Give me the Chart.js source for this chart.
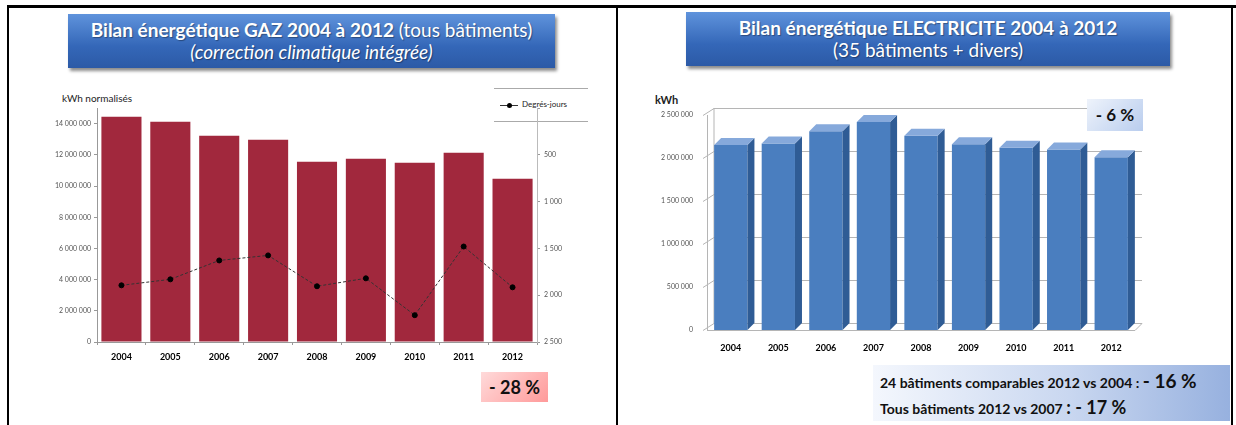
<!DOCTYPE html>
<html>
<head>
<meta charset="utf-8">
<script src="https://cdn.jsdelivr.net/npm/chart.js@4.4.1/dist/chart.umd.min.js"></script>
<style>
  body { margin: 0; width: 1236px; height: 425px; background: #fff; position: relative; overflow: hidden; font-family: Lato, "Open Sans", sans-serif; }
  .line { position: absolute; background: #000; }
  .titre { position: absolute; color: #fff; text-align: center; font-size: 19px; line-height: 22px;
    background: linear-gradient(#5f93dc, #3467b8 60%, #2c5aa6); box-shadow: 2px 3px 3px rgba(0,0,0,0.45);
    text-shadow: 1px 1px 1px rgba(0,0,0,0.35); padding-top: 5px; box-sizing: border-box; }
  .box { position: absolute; font-weight: bold; color: #111; }
  canvas { position: absolute; }
</style>
</head>
<body>
<div class="line" style="left:7px;top:5px;width:1229px;height:3px"></div>
<div class="line" style="left:7px;top:5px;width:2px;height:420px"></div>
<div class="line" style="left:616px;top:5px;width:2px;height:420px"></div>
<div class="line" style="left:1231px;top:5px;width:2px;height:420px"></div>

<div class="titre" style="left:68px;top:14px;width:487px;height:54px">
  <b>Bilan énergétique GAZ 2004 à 2012</b> (tous bâtiments)<br><i>(correction climatique intégrée)</i>
</div>
<div class="titre" style="left:686px;top:12px;width:484px;height:54px">
  <b>Bilan énergétique ELECTRICITE 2004 à 2012</b><br>(35 bâtiments + divers)
</div>

<div style="position:absolute;left:62px;top:92px;font-size:10px;color:#222">kWh normalisés</div>
<div style="position:absolute;left:655px;top:93px;font-size:11px;font-weight:bold;color:#222">kWh</div>

<div style="position:absolute;left:494px;top:88px;width:94px;height:32px;background:#fff;border-top:1px solid #aaa;border-bottom:1px solid #aaa;font-size:8px;color:#222">
  <div style="position:absolute;left:6px;top:16px;width:18px;height:1px;background:#333"></div>
  <div style="position:absolute;left:13px;top:14px;width:5px;height:5px;border-radius:50%;background:#000"></div>
  <div style="position:absolute;left:28px;top:10px">Degrés-jours</div>
</div>

<canvas id="chartGaz" width="560" height="270" style="left:40px;top:100px;width:560px;height:270px"></canvas>
<canvas id="chartElec" width="520" height="270" style="left:640px;top:95px;width:520px;height:270px"></canvas>

<div class="box" style="left:481px;top:372px;width:67px;height:30px;background:linear-gradient(135deg,#ffdada,#ff9a9a);font-size:18px;line-height:30px;text-align:center">- 28 %</div>
<div class="box" style="left:1087px;top:99px;width:56px;height:32px;background:linear-gradient(135deg,#eef3fb,#b9cdee);font-size:17px;line-height:32px;text-align:center">- 6 %</div>
<div class="box" style="left:873px;top:365px;width:357px;height:56px;background:linear-gradient(90deg,#f4f7fd,#c9d7f0 55%,#97b1df);font-size:14px;line-height:25px;padding:3px 0 0 7px;box-sizing:border-box">
  24 bâtiments comparables 2012 vs 2004 : <span style="font-size:19px">- 16 %</span><br>
  Tous bâtiments 2012 vs 2007 <span style="font-size:18px">: - 17 %</span>
</div>

<script>
// données
const annees = ['2004', '2005', '2006', '2007', '2008', '2009', '2010', '2011', '2012'];
const gazKwh = [14450000, 14130000, 13230000, 12970000, 11560000, 11750000, 11500000, 12140000, 10470000];
const degresJours = [1894, 1830, 1628, 1574, 1904, 1819, 2213, 1479, 1915];
const elecKwh = [2150000, 2170000, 2310000, 2420000, 2260000, 2160000, 2120000, 2100000, 2010000];

const espace = v => String(Math.round(v)).replace(/\B(?=(\d{3})+(?!\d))/g, ' ');

// Graphique GAZ - barres + degrés-jours
new Chart(document.getElementById('chartGaz'), {
  type: 'bar',
  data: {
    labels: annees,
    datasets: [{
      type: 'line',
      label: 'Degrés-jours',
      data: degresJours,
      yAxisID: 'y1',
      borderColor: '#333',
      borderWidth: 1,
      borderDash: [3, 2],
      pointRadius: 2.5,
      pointBackgroundColor: '#000',
      pointBorderColor: '#000',
      tension: 0
    }, {
      label: 'kWh',
      data: gazKwh,
      yAxisID: 'y',
      backgroundColor: '#a1283d',
      barPercentage: 0.82,
      categoryPercentage: 1
    }]
  },
  options: {
    responsive: false,
    animation: false,
    layout: { padding: { top: 8, left: 0, right: 0, bottom: 0 } },
    plugins: { legend: { display: false }, tooltip: { enabled: false } },
    scales: {
      x: {
        afterFit: s => { s.height = 28; },
        grid: { drawOnChartArea: false, tickLength: 3, color: '#999' },
        border: { color: '#999' },
        ticks: { color: '#000', font: { family: 'Lato', size: 9, weight: 'bold' }, padding: 7 }
      },
      y: {
        position: 'left',
        min: 0, max: 15000000,
        afterFit: s => { s.width = 57; },
        afterBuildTicks: s => {
          s.ticks = s.ticks.filter(t => Math.abs(t.value - Math.round(t.value / 2000000) * 2000000) < 10);
        },
        grid: { drawOnChartArea: false, tickLength: 3, color: '#999' },
        border: { color: '#999' },
        ticks: { stepSize: 1000000, autoSkip: false, color: '#555', font: { family: 'Lato', size: 7 }, callback: v => espace(v) }
      },
      y1: {
        position: 'right',
        reverse: true,
        min: 0, max: 2500,
        afterFit: s => { s.width = 63; },
        grid: { drawOnChartArea: false, tickLength: 3, color: '#999' },
        border: { color: '#bbb' },
        ticks: { stepSize: 500, color: '#555', font: { family: 'Lato', size: 7 }, padding: 4, callback: v => v === 0 ? '' : espace(v) }
      }
    }
  }
});

// effet 3D pour les barres électricité
const dx = 7, dy = -7;
const effet3d = {
  id: 'effet3d',
  beforeDatasetsDraw(chart) {
    const { ctx, chartArea: a, scales } = chart;
    const y = scales.y;
    ctx.save();
    ctx.strokeStyle = '#b5b5b5';
    ctx.lineWidth = 1;
    y.ticks.forEach(t => {
      const py = Math.round(y.getPixelForValue(t.value)) + 0.5;
      ctx.beginPath();
      ctx.moveTo(a.left - 4, py);
      ctx.lineTo(a.left + dx, py + dy);
      if (t.value !== 0) ctx.lineTo(a.right + dx, py + dy);
      ctx.stroke();
    });
    const b = Math.round(a.bottom) + 0.5;
    ctx.beginPath();
    ctx.moveTo(a.left + dx, a.top + dy);
    ctx.lineTo(a.left + dx, b + dy);
    ctx.lineTo(a.right + dx, b + dy);
    ctx.lineTo(a.right, b);
    ctx.lineTo(a.left, b);
    ctx.stroke();
    ctx.restore();
  },
  afterDatasetsDraw(chart) {
    const { ctx } = chart;
    ctx.save();
    chart.getDatasetMeta(0).data.forEach(bar => {
      const l = bar.x - bar.width / 2, r = bar.x + bar.width / 2;
      ctx.fillStyle = '#2f5c95';
      ctx.beginPath();
      ctx.moveTo(r, bar.y);
      ctx.lineTo(r + dx, bar.y + dy);
      ctx.lineTo(r + dx, bar.base + dy);
      ctx.lineTo(r, bar.base);
      ctx.closePath();
      ctx.fill();
      ctx.fillStyle = '#86a9db';
      ctx.beginPath();
      ctx.moveTo(l, bar.y);
      ctx.lineTo(l + dx, bar.y + dy);
      ctx.lineTo(r + dx, bar.y + dy);
      ctx.lineTo(r, bar.y);
      ctx.closePath();
      ctx.fill();
    });
    ctx.restore();
  }
};

// Graphique ELECTRICITE - barres 3D
new Chart(document.getElementById('chartElec'), {
  type: 'bar',
  data: {
    labels: annees,
    datasets: [{
      label: 'kWh',
      data: elecKwh,
      backgroundColor: ctx => {
        const bar = ctx.element;
        if (!bar || !isFinite(bar.x)) return '#4a7ebf';
        const g = ctx.chart.ctx.createLinearGradient(bar.x - bar.width / 2, 0, bar.x + bar.width / 2, 0);
        g.addColorStop(0, '#4a7ebf');
        g.addColorStop(0.35, '#5a8fd3');
        g.addColorStop(1, '#3f70b0');
        return g;
      },
      barPercentage: 0.7,
      categoryPercentage: 1
    }]
  },
  plugins: [effet3d],
  options: {
    responsive: false,
    animation: false,
    layout: { padding: { top: 20, left: 0, right: 25, bottom: 0 } },
    plugins: { legend: { display: false }, tooltip: { enabled: false } },
    scales: {
      x: {
        afterFit: s => { s.height = 35; },
        grid: { display: false },
        border: { display: false },
        ticks: { color: '#000', font: { family: 'Lato', size: 9, weight: 'bold' }, padding: 5 }
      },
      y: {
        min: 0, max: 2500000,
        afterFit: s => { s.width = 67; },
        grid: { display: false },
        border: { color: '#b5b5b5' },
        ticks: { stepSize: 500000, color: '#555', font: { family: 'Lato', size: 7 }, padding: 6, callback: v => espace(v) }
      }
    }
  }
});
</script>
</body>
</html>
